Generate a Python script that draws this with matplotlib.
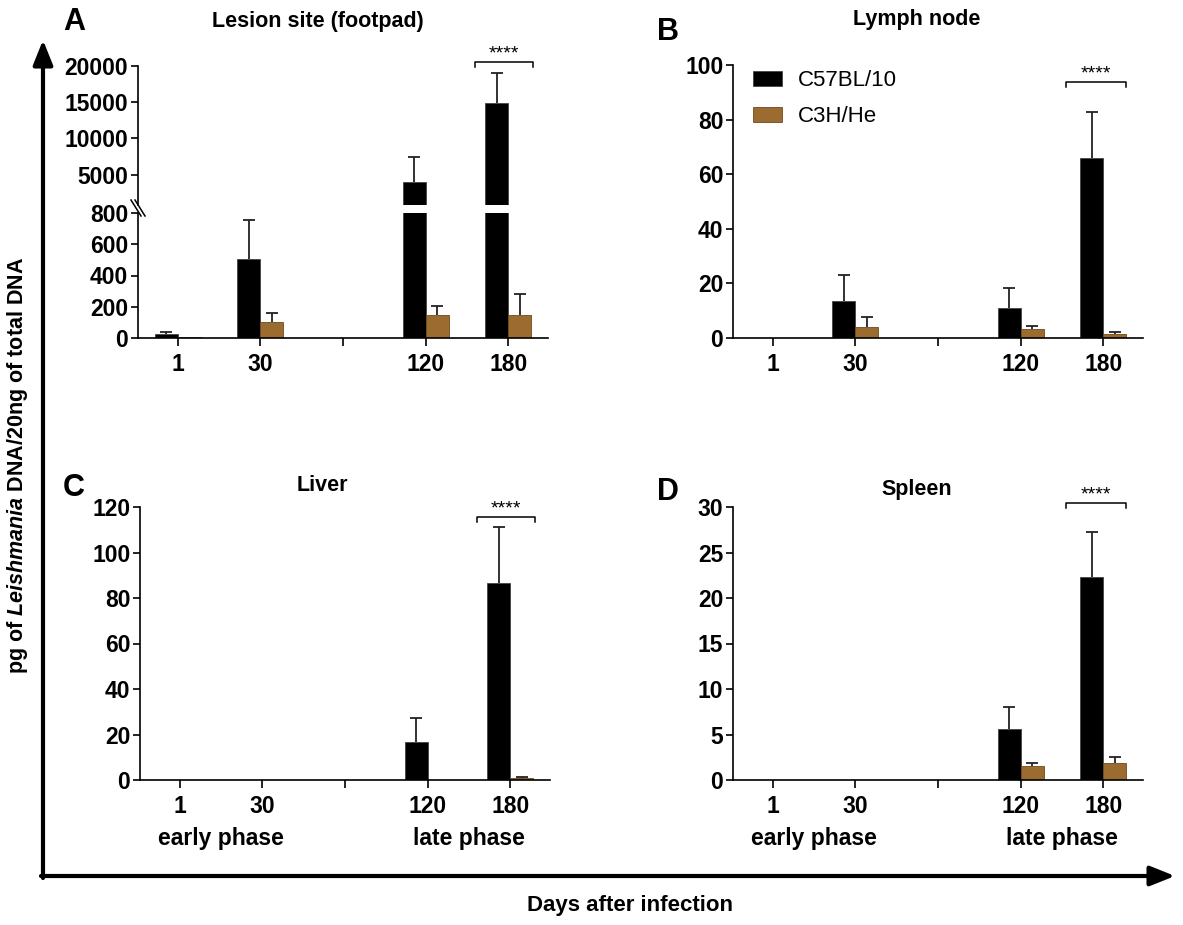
import matplotlib
matplotlib.use("Agg")
import matplotlib.pyplot as plt
import numpy as np
from matplotlib.transforms import blended_transform_factory
from matplotlib.patches import FancyArrowPatch, Patch
from matplotlib.lines import Line2D

plt.rcParams['font.family'] = ['Liberation Sans', 'DejaVu Sans']
plt.rcParams['mathtext.fontset'] = 'custom'
plt.rcParams['mathtext.it'] = 'Liberation Sans:italic:bold'
plt.rcParams['mathtext.rm'] = 'Liberation Sans:bold'
plt.rcParams['mathtext.bf'] = 'Liberation Sans:bold'

# ---------------- data ----------------
days = ['1', '30', '120', '180']
tick_labels = ['1', '30', '', '120', '180']
day_pos = [0, 1, 3, 4]
strains = ['C57BL/10', 'C3H/He']
colors = ['#000000', '#9C6B30']

A_c57 = [25, 503, 4020, 14930]
A_c57_err = [15, 250, 3410, 4140]
A_c3h = [5, 102, 147, 147]
A_c3h_err = [0, 56, 57, 134]

B_c57 = [0, 13.6, 11.1, 66.1]
B_c57_err = [0, 9.4, 7.2, 16.8]
B_c3h = [0, 4.1, 3.2, 1.6]
B_c3h_err = [0, 3.6, 1.05, 0.7]

C_c57 = [0, 0, 16.8, 86.4]
C_c57_err = [0, 0, 10.3, 24.7]
C_c3h = [0, 0, 0, 0.75]
C_c3h_err = [0, 0, 0, 0.7]

D_c57 = [0, 0, 5.57, 22.3]
D_c57_err = [0, 0, 2.42, 4.9]
D_c3h = [0, 0, 1.54, 1.83]
D_c3h_err = [0, 0, 0.29, 0.73]

W, H = 1183, 925
fig = plt.figure(figsize=(W / 100, H / 100), dpi=100)


def rect(x0, y0, x1, y1):
    return [x0 / W, 1 - y1 / H, (x1 - x0) / W, (y1 - y0) / H]


BW = 0.28
TICK_FS = 16.5


def style(ax, xt=True):
    for s in ['top', 'right']:
        ax.spines[s].set_visible(False)
    for s in ['left', 'bottom']:
        ax.spines[s].set_linewidth(1.2)
    ax.set_xlim(-0.48, 4.48)
    ax.tick_params(axis='y', length=5, width=1.2, labelsize=TICK_FS, pad=2)
    ax.tick_params(axis='x', length=5.5, width=1.2, labelsize=TICK_FS, pad=5)
    for lab in ax.get_yticklabels() + ax.get_xticklabels():
        lab.set_fontweight('bold')
    if xt:
        ax.set_xticks(range(5))
        ax.set_xticklabels(tick_labels, fontweight='bold')
    else:
        ax.set_xticks([])
        ax.spines['bottom'].set_visible(False)


def draw_bars(ax, c57, c57e, c3h, c3he, ymin=0.0):
    pos = np.array(day_pos, dtype=float)
    series = [(c57, c57e, pos - BW / 2, colors[0], '#444444'),
              (c3h, c3he, pos + BW / 2, colors[1], '#6E4A1E')]
    for vals, errs, xs, col, ec in series:
        vals = np.array(vals, dtype=float)
        errs = np.array(errs, dtype=float)
        ax.bar(xs, vals, width=BW, color=col, edgecolor=ec, linewidth=0.6, zorder=2)
        m = (vals > 0) & (errs > 0) & (vals + errs > ymin)
        ax.errorbar(xs[m], vals[m], yerr=[np.zeros(m.sum()), errs[m]], fmt='none',
                    ecolor='#222222', elinewidth=1.3, capsize=0, zorder=1)
        ax.plot(xs[m], vals[m] + errs[m], linestyle='none', marker='_',
                markersize=9, markeredgewidth=1.3, color='#222222', zorder=1)


def bracket(ax, x0, x1, ypix):
    tr = blended_transform_factory(ax.transData, fig.transFigure)
    yt = 1 - ypix / H
    yb = 1 - (ypix + 5) / H
    fig.add_artist(Line2D([x0, x0, x1, x1], [yb, yt, yt, yb], transform=tr,
                          color='black', lw=1.1))
    fig.text((x0 + x1) / 2, 1 - (ypix - 8) / H, '****', transform=tr,
             ha='center', va='center', fontsize=14)


# ---------- Panel A (broken axis) ----------
axAl = fig.add_axes(rect(138, 213, 548, 338))
axAu = fig.add_axes(rect(138, 66, 548, 205))
draw_bars(axAl, A_c57, A_c57_err, A_c3h, A_c3h_err)
draw_bars(axAu, A_c57, A_c57_err, A_c3h, A_c3h_err, ymin=800)
axAl.set_ylim(0, 800)
axAl.set_yticks([0, 200, 400, 600, 800])
axAu.set_ylim(800, 20000)
axAu.set_yticks([5000, 10000, 15000, 20000])
style(axAl)
style(axAu, xt=False)
bracket(axAu, 3.6, 4.3, 62)
# break marks
for dx in (0, 4):
    fig.add_artist(Line2D([(131 + dx) / W, (141 + dx) / W],
                          [1 - 200 / H, 1 - 216 / H], color='black', lw=1.1))

# ---------- Panel B ----------
axB = fig.add_axes(rect(733, 65, 1143, 338))
draw_bars(axB, B_c57, B_c57_err, B_c3h, B_c3h_err)
axB.set_ylim(0, 100)
axB.set_yticks([0, 20, 40, 60, 80, 100])
style(axB)
bracket(axB, 3.55, 4.27, 82)
handles = [Patch(facecolor=colors[0], edgecolor='#444444', lw=0.6),
           Patch(facecolor=colors[1], edgecolor='#6E4A1E', lw=0.6)]
axB.legend(handles, strains, loc='upper left', bbox_to_anchor=(753 / W, 1 - 70 / H),
           bbox_transform=fig.transFigure, frameon=False, fontsize=16,
           handlelength=1.3, handleheight=0.65, handletextpad=0.7,
           labelspacing=0.68, borderpad=0, borderaxespad=0)

# ---------- Panel C ----------
axC = fig.add_axes(rect(140, 507, 550, 780))
draw_bars(axC, C_c57, C_c57_err, C_c3h, C_c3h_err)
axC.set_ylim(0, 120)
axC.set_yticks([0, 20, 40, 60, 80, 100, 120])
style(axC)
bracket(axC, 3.6, 4.3, 517)

# ---------- Panel D ----------
axD = fig.add_axes(rect(733, 507, 1143, 780))
draw_bars(axD, D_c57, D_c57_err, D_c3h, D_c3h_err)
axD.set_ylim(0, 30)
axD.set_yticks([0, 5, 10, 15, 20, 25, 30])
style(axD)
bracket(axD, 3.55, 4.27, 503)

# phase labels
for ax in (axC, axD):
    tr = blended_transform_factory(ax.transData, fig.transFigure)
    fig.text(0.5, 1 - 838 / H, 'early phase', transform=tr, ha='center', va='center',
             fontsize=16.5, fontweight='bold')
    fig.text(3.5, 1 - 838 / H, 'late phase', transform=tr, ha='center', va='center',
             fontsize=16.5, fontweight='bold')

# titles and panel letters
titles = [('Lesion site (footpad)', 318, 22), ('Lymph node', 917, 20),
          ('Liver', 322, 486), ('Spleen', 917, 490)]
for t, x, y in titles:
    fig.text(x / W, 1 - y / H, t, ha='center', va='center', fontsize=15.5, fontweight='bold')
letters = [('A', 74, 22), ('B', 668, 32), ('C', 74, 488), ('D', 668, 492)]
for t, x, y in letters:
    fig.text(x / W, 1 - y / H, t, ha='center', va='center', fontsize=22, fontweight='bold')

# big frame arrows
fig.add_artist(FancyArrowPatch((43 / W, 1 - 878 / H), (43 / W, 1 - 40 / H),
                               transform=fig.transFigure, arrowstyle='-|>,head_length=15,head_width=6',
                               mutation_scale=1, lw=3, color='black', shrinkA=0, shrinkB=0))
fig.add_artist(FancyArrowPatch((41 / W, 1 - 876 / H), (1175 / W, 1 - 876 / H),
                               transform=fig.transFigure, arrowstyle='-|>,head_length=15,head_width=6',
                               mutation_scale=1, lw=3, color='black', shrinkA=0, shrinkB=0))

fig.text(18 / W, 1 - 465 / H, 'pg of $\\mathit{Leishmania}$ DNA/20ng of total DNA',
         rotation=90, ha='center', va='center', fontsize=15.5, fontweight='bold')
fig.text(630 / W, 1 - 905 / H, 'Days after infection', ha='center', va='center',
         fontsize=16, fontweight='bold')

fig.savefig('out.png', dpi=100)
